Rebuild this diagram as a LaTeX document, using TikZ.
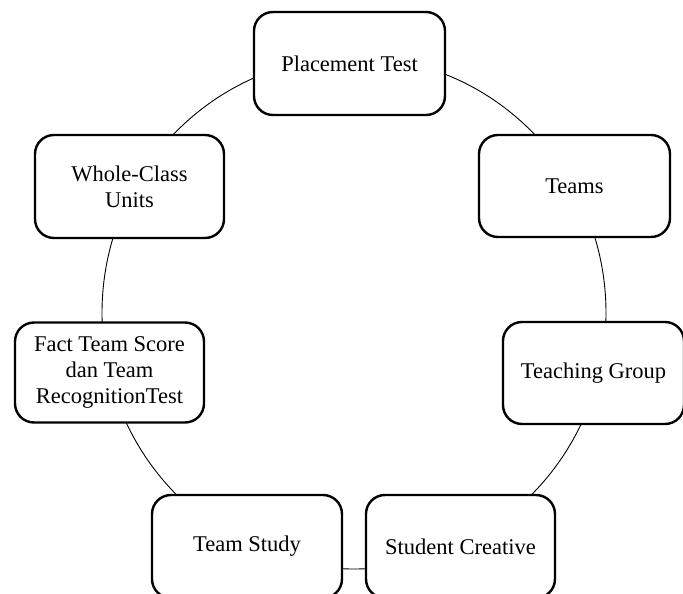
\documentclass[tikz,border=0pt]{standalone}
\usepackage{fontspec}
\setmainfont{Liberation Serif}
\begin{document}
\begin{tikzpicture}[x=1pt,y=-1pt,
  stage/.style={draw=black, line width=2.4pt, fill=white, rounded corners=19pt,
    rectangle, align=center, inner sep=0pt, outer sep=0pt,
    font=\fontsize{22.5}{26}\selectfont}]
\useasboundingbox (0,0) rectangle (683,594);
\draw[line width=0.9pt] (354,313) ellipse [x radius=252, y radius=256];
\node[stage, minimum width=191pt, minimum height=103pt] (pt) at (349.5,63.5) {Placement Test};
\node[stage, minimum width=191pt, minimum height=102pt] (tm) at (574.5,186) {Teams};
\node[stage, minimum width=181pt, minimum height=102pt] (tg) at (593.5,373) {Teaching Group};
\node[stage, minimum width=189pt, minimum height=103pt] (sc) at (460.5,546.5) {Student Creative};
\node[stage, minimum width=190pt, minimum height=103pt] (ts) at (247,546.5) {Team Study};
\node[stage, minimum width=189pt, minimum height=100pt] (ft) at (109.5,372.5) {Fact Team Score\\dan Team\\RecognitionTest};
\node[stage, minimum width=189pt, minimum height=103pt] (wc) at (129.5,186.5) {Whole-Class\\Units};
\end{tikzpicture}
\end{document}
